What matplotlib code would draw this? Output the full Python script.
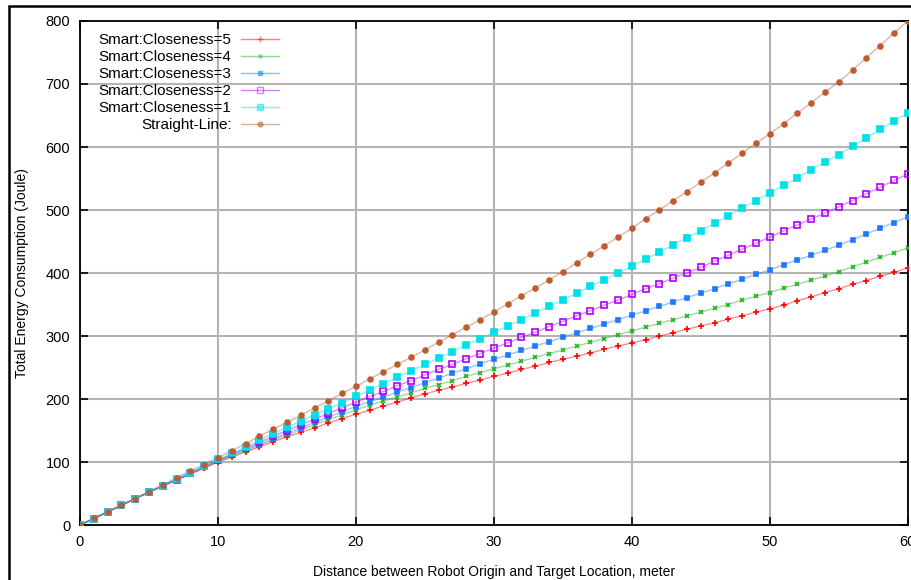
import numpy as np
import matplotlib
matplotlib.use("Agg")
import matplotlib.pyplot as plt
from matplotlib.patches import Rectangle

plt.rcParams['font.family'] = ['Liberation Sans', 'DejaVu Sans']

# distance (m), one marker per metre
dist = list(range(0, 61))

# total energy (J)
e_close5 = [0, 10, 21, 31, 42, 52, 62, 71, 81, 90, 100,
            108, 116, 124, 132, 140, 147, 154, 162, 169, 176,
            182, 189, 195, 202, 208, 214, 219, 225, 230, 236,
            241, 247, 252, 258, 263, 268, 273, 279, 284, 289,
            294, 300, 305, 311, 316, 321, 327, 332, 338, 343,
            349, 356, 362, 369, 375, 382, 388, 395, 401, 408]
e_close4 = [0, 10, 21, 31, 42, 52, 62, 72, 81, 91, 101,
            109, 118, 126, 135, 143, 151, 159, 167, 175, 183,
            190, 197, 203, 210, 217, 223, 229, 236, 242, 248,
            254, 260, 266, 272, 278, 284, 290, 296, 302, 308,
            314, 320, 326, 332, 338, 344, 350, 357, 363, 369,
            376, 382, 389, 395, 402, 410, 417, 425, 432, 440]
e_close3 = [0, 10, 21, 31, 42, 52, 62, 72, 82, 92, 102,
            111, 120, 128, 137, 146, 154, 163, 171, 180, 188,
            196, 203, 211, 218, 226, 233, 241, 248, 256, 263,
            270, 277, 284, 291, 298, 305, 312, 319, 326, 333,
            340, 347, 354, 361, 368, 375, 383, 390, 398, 405,
            413, 421, 428, 436, 444, 453, 462, 471, 480, 489]
e_close2 = [0, 10, 21, 31, 42, 52, 62, 72, 83, 93, 103,
            112, 122, 131, 141, 150, 159, 168, 177, 186, 195,
            204, 212, 221, 229, 238, 247, 255, 264, 272, 281,
            289, 298, 306, 315, 323, 332, 340, 349, 357, 366,
            375, 383, 392, 400, 409, 419, 428, 438, 447, 457,
            467, 476, 486, 495, 505, 515, 526, 536, 547, 557]
e_close1 = [0, 10, 21, 31, 42, 52, 62, 73, 83, 94, 104,
            114, 124, 135, 145, 155, 165, 175, 184, 194, 204,
            214, 224, 235, 245, 255, 265, 275, 286, 296, 306,
            316, 326, 337, 347, 357, 368, 379, 389, 400, 411,
            422, 433, 445, 456, 467, 479, 491, 503, 515, 527,
            539, 551, 564, 576, 588, 601, 614, 628, 641, 654]
e_straight = [0, 11, 21, 32, 42, 53, 64, 75, 86, 96, 107,
              118, 129, 141, 152, 163, 174, 186, 197, 209, 220,
              232, 243, 255, 266, 278, 290, 302, 314, 326, 338,
              351, 364, 376, 389, 402, 416, 430, 443, 457, 471,
              486, 500, 515, 529, 544, 559, 575, 590, 606, 621,
              637, 654, 670, 687, 703, 722, 742, 761, 781, 800]

series = [
    ("Smart:Closeness=5", e_close5, "#ff0000", "+", 5, "full"),
    ("Smart:Closeness=4", e_close4, "#22b022", "x", 3.5, "full"),
    ("Smart:Closeness=3", e_close3, "#1f78ff", "s", 3, "full"),
    ("Smart:Closeness=2", e_close2, "#b000ff", "s", 4.5, "none"),
    ("Smart:Closeness=1", e_close1, "#00e0e8", "s", 5, "full"),
    ("Straight-Line:", e_straight, "#c05a30", "o", 3.5, "full"),
]

fig = plt.figure(figsize=(9.12, 5.8), dpi=100)
ax = fig.add_axes([0.0877, 0.0948, 0.9076, 0.869])

for label, vals, col, mk, ms, fill in series:
    # faint connecting line, solid markers on top
    ax.plot(dist, vals, color=col, lw=1.0, alpha=0.45, zorder=2)
    if fill == "none":
        ax.plot(dist, vals, ls="none", marker=mk, ms=ms, mec=col, mfc="none",
                mew=1.2, zorder=3)
    else:
        ax.plot(dist, vals, ls="none", marker=mk, ms=ms, color=col,
                mew=1.2, zorder=3)
    ax.plot([], [], color=col, lw=1.0, marker=mk, ms=ms,
            mfc="none" if fill == "none" else col, mec=col, label=label)

ax.set_xlim(0, 60)
ax.set_ylim(0, 800)
ax.set_xticks(np.arange(0, 61, 10))
ax.set_yticks(np.arange(0, 801, 100))
ax.grid(True, color="#b4b4b4", lw=1.5)
ax.set_axisbelow(True)
ax.tick_params(direction="in", length=6, width=1.2, top=True, right=True,
               labelsize=10.5, pad=7)
for s in ax.spines.values():
    s.set_linewidth(1.3)

ax.set_xlabel("Distance between Robot Origin and Target Location, meter",
              fontsize=10, labelpad=12)
ax.set_ylabel("Total Energy Consumption (Joule)", fontsize=10)
ax.yaxis.set_label_coords(-0.062, 0.5)

leg = ax.legend(loc="upper right", bbox_to_anchor=(0.244, 0.982),
                frameon=False, markerfirst=False, numpoints=1,
                handlelength=2.5, handletextpad=0.6, labelspacing=0.2,
                borderpad=0.2, borderaxespad=0, fontsize=11)
for h in leg.get_lines():
    h.set_alpha(0.5)

# outer frame round the figure
fig.patches.append(Rectangle((0.0099, -0.2), 1.5, 0.9888 + 0.2,
                             transform=fig.transFigure, fill=False,
                             lw=1.8, ec="black"))

fig.savefig("out.png", dpi=100)
